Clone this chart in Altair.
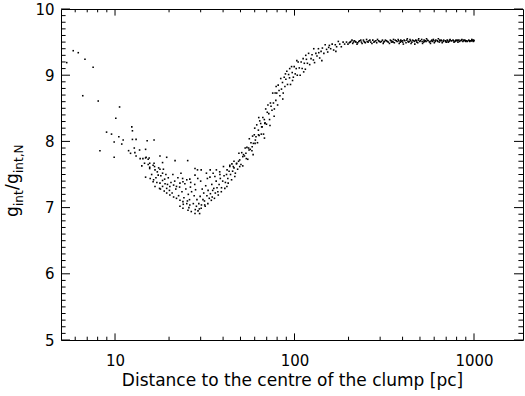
import altair as alt
import pandas as pd

# (distance [pc], g_int/g_int,N)
sparse_pts = [
    (5.38, 9.19), (5.85, 9.37), (6.24, 9.34), (6.80, 9.24), (7.55, 9.12), (6.61, 8.69),
    (8.06, 8.61), (10.6, 8.52), (10.1, 8.35), (12.4, 8.22), (12.5, 8.16), (8.97, 8.14),
    (9.56, 8.11), (10.5, 8.07), (11.1, 8.02), (9.89, 7.99), (12.5, 8.03), (13.1, 8.03),
    (15.1, 8.01), (16.5, 8.02), (10.9, 7.96), (12.8, 7.90), (14.8, 7.88), (8.24, 7.86),
    (11.9, 7.86), (12.2, 7.82), (12.9, 7.83), (13.7, 7.87), (9.89, 7.76), (13.1, 7.78),
    (13.8, 7.74), (14.8, 7.75), (15.5, 7.75), (17.8, 7.78), (19.4, 7.76), (18.4, 7.68),
    (21.6, 7.71), (25.4, 7.71), (14.1, 7.63), (15.3, 7.65), (16.5, 7.67), (15.6, 7.61),
    (16.6, 7.62), (17.8, 7.58), (27.9, 7.59),
]

left_arm_pts = [
    (14.3, 7.74), (14.9, 7.76), (15.3, 7.73), (14.6, 7.67), (15.6, 7.67), (16.3, 7.64),
    (15.6, 7.59), (16.7, 7.57), (17.2, 7.54), (14.8, 7.46), (15.7, 7.44), (17.4, 7.49),
    (18.4, 7.52), (16.3, 7.39), (17.1, 7.38), (17.8, 7.37), (18.4, 7.41), (18.9, 7.43),
    (16.7, 7.32), (17.7, 7.29), (18.4, 7.32), (19.4, 7.29), (20.2, 7.32), (19.4, 7.22),
    (20.2, 7.19), (16.0, 7.50), (16.9, 7.45), (17.5, 7.60), (18.0, 7.48), (18.6, 7.58),
    (19.0, 7.36), (17.9, 7.28), (19.2, 7.50), (16.4, 7.42), (18.8, 7.25),
]

trough_pts = [
    (21.2, 7.16), (22.0, 7.14), (23.0, 7.11), (23.9, 7.09), (25.1, 7.06), (26.1, 7.04),
    (23.0, 7.02), (23.9, 6.99), (25.5, 6.96), (26.6, 6.94), (27.9, 6.91), (29.0, 6.95),
    (30.2, 6.99), (29.6, 6.91), (31.6, 7.04), (32.9, 7.06), (34.4, 7.11), (35.8, 7.14),
    (37.6, 7.19), (39.1, 7.24), (40.9, 7.29), (42.7, 7.37), (44.6, 7.42), (46.5, 7.47),
    (21.2, 7.34), (22.0, 7.32), (23.0, 7.37), (23.9, 7.39), (25.1, 7.42), (26.1, 7.43),
    (27.9, 7.49), (28.8, 7.57), (30.2, 7.57), (32.3, 7.52), (33.9, 7.57), (35.2, 7.52),
    (36.7, 7.57), (38.3, 7.54), (40.2, 7.62), (42.1, 7.57), (43.6, 7.64), (45.6, 7.62),
    (19.8, 7.45), (20.5, 7.38), (20.1, 7.26), (21.0, 7.50), (20.8, 7.22), (19.6, 7.35),
    (21.8, 7.28), (22.4, 7.45), (22.6, 7.18), (21.5, 7.40), (22.9, 7.31), (23.3, 7.52),
    (23.6, 7.24), (24.2, 7.15), (24.5, 7.36), (24.0, 7.05), (24.8, 7.28), (23.8, 7.44),
    (25.6, 7.20), (26.0, 7.12), (26.3, 7.31), (25.8, 7.00), (26.7, 7.24), (26.4, 7.38),
    (25.3, 7.10), (27.3, 7.06), (27.6, 7.18), (28.1, 7.27), (28.4, 7.02), (28.0, 6.97),
    (27.8, 7.35), (28.6, 7.12), (28.9, 7.44), (29.3, 7.06), (29.8, 7.17), (30.3, 7.04),
    (30.6, 7.28), (29.5, 6.98), (30.9, 7.12), (30.0, 7.40), (31.2, 7.22), (31.5, 7.10),
    (32.0, 7.33), (32.5, 7.18), (31.8, 7.02), (33.0, 7.26), (32.7, 7.44), (33.5, 7.14),
    (34.0, 7.21), (34.6, 7.35), (33.8, 7.46), (35.0, 7.26), (34.8, 7.16), (35.5, 7.29),
    (36.2, 7.22), (36.6, 7.40), (37.0, 7.30), (36.0, 7.47), (37.4, 7.24), (38.0, 7.35),
    (38.6, 7.44), (39.2, 7.30), (39.8, 7.40), (38.4, 7.50), (40.5, 7.48), (41.2, 7.38),
    (41.8, 7.50), (42.5, 7.44), (43.2, 7.55), (42.0, 7.32), (44.0, 7.50), (43.6, 7.62),
    (45.2, 7.55), (46.0, 7.60), (46.8, 7.52), (47.5, 7.66), (48.2, 7.58), (48.8, 7.70),
    (49.5, 7.62), (49.0, 7.82), (46.0, 7.70), (44.8, 7.66),
]

rise_pts = [
    (47.6, 7.67), (49.5, 7.72), (51.5, 7.77), (53.6, 7.82), (55.8, 7.87), (58.1, 7.92),
    (60.5, 8.02), (63.0, 8.10), (65.6, 8.22), (68.3, 8.27),
    (50.3, 7.65), (50.8, 7.83), (51.5, 7.63), (52.0, 7.80), (52.6, 7.78), (53.1, 7.90),
    (53.9, 7.74), (54.3, 7.91), (54.9, 7.73), (55.5, 7.90), (56.0, 8.04), (56.7, 7.88),
    (57.2, 7.98), (57.9, 7.86), (58.4, 8.08), (59.0, 7.97), (59.7, 8.10), (60.3, 7.97),
    (61.0, 8.07), (61.6, 8.25), (62.2, 7.98), (62.9, 8.17), (63.5, 8.09), (64.0, 8.31),
    (64.8, 8.27), (65.3, 8.11), (66.0, 8.22), (66.6, 8.36), (67.2, 8.11), (67.9, 8.33),
    (68.5, 8.28), (69.1, 8.49), (69.8, 8.26), (70.5, 8.44), (71.1, 8.55), (71.9, 8.42),
    (72.6, 8.33), (73.4, 8.58), (74.0, 8.53), (74.9, 8.47), (75.6, 8.73), (76.3, 8.58),
    (77.2, 8.49), (78.0, 8.73), (78.7, 8.62), (79.6, 8.73), (80.5, 8.55), (81.1, 8.85),
    (82.0, 8.77), (82.9, 8.69), (83.8, 8.95), (84.6, 8.79), (85.7, 8.89), (86.5, 8.73),
    (87.6, 8.97), (88.4, 8.83), (89.5, 8.94), (90.6, 9.06), (91.4, 8.86), (92.7, 9.01),
    (93.8, 8.96), (95.0, 8.86), (96.3, 9.13), (97.1, 9.04), (98.5, 8.97), (99.6, 9.13),
    (100.9, 9.02), (102.2, 9.10), (103.6, 9.00), (104.8, 9.20), (106.3, 9.11), (107.5, 9.00),
    (108.9, 9.20), (110.3, 9.10), (111.7, 9.25), (113.4, 9.18), (114.9, 9.09), (116.5, 9.24),
    (118.0, 9.18), (119.8, 9.33), (121.5, 9.16), (123.6, 9.25), (125.2, 9.31), (127.4, 9.23),
    (129.3, 9.19), (131.5, 9.33), (133.4, 9.29), (135.9, 9.40), (138.1, 9.26), (140.6, 9.36),
    (143.0, 9.41), (145.7, 9.33), (148.2, 9.46), (150.9, 9.39), (153.1, 9.35), (156.4, 9.45),
    (159.0, 9.40), (162.1, 9.47), (165.2, 9.38), (168.7, 9.46), (171.6, 9.43), (175.4, 9.51),
    (178.6, 9.47), (182.3, 9.43), (186.5, 9.50), (190.2, 9.47), (194.8, 9.50), (198.5, 9.47),
    (58.8, 7.80), (63.2, 8.36), (68.0, 8.05), (73.0, 8.24), (79.0, 8.83), (86.0, 8.64),
    (94.0, 9.10), (103.0, 9.22), (115.5, 9.30), (128.0, 9.40), (142.0, 9.22), (60.0, 8.20),
    (77.0, 8.38), (89.0, 9.02), (97.5, 8.92), (112.5, 9.05), (136.5, 9.34), (155.0, 9.42),
    (170.0, 9.36),
]

plateau_pts = [
    (202, 9.49), (206, 9.51), (211, 9.48), (215, 9.52), (220, 9.50), (225, 9.49),
    (231, 9.52), (236, 9.50), (242, 9.53), (248, 9.49), (254, 9.51), (260, 9.52),
    (266, 9.50), (273, 9.53), (280, 9.51), (287, 9.49), (294, 9.52), (301, 9.50),
    (309, 9.53), (317, 9.51), (325, 9.52), (333, 9.50), (342, 9.53), (351, 9.51),
    (360, 9.49), (369, 9.52), (378, 9.54), (388, 9.50), (398, 9.52), (408, 9.53),
    (418, 9.49), (429, 9.51), (440, 9.54), (451, 9.50), (462, 9.52), (474, 9.53),
    (486, 9.49), (498, 9.51), (511, 9.54), (524, 9.50), (537, 9.52), (551, 9.53),
    (565, 9.50), (579, 9.52), (594, 9.54), (609, 9.51), (625, 9.52), (641, 9.50),
    (657, 9.53), (674, 9.51), (691, 9.52), (709, 9.53), (727, 9.51), (745, 9.52),
    (764, 9.53), (784, 9.51), (804, 9.52), (824, 9.53), (845, 9.52), (867, 9.51),
    (889, 9.53), (912, 9.52), (935, 9.53), (959, 9.52), (984, 9.53), (1000, 9.52),
    (209, 9.53), (223, 9.47), (238, 9.48), (252, 9.54), (270, 9.48), (290, 9.54),
    (312, 9.48), (338, 9.48), (356, 9.54), (383, 9.48), (404, 9.47), (425, 9.55),
    (446, 9.48), (468, 9.47), (492, 9.55), (517, 9.48), (544, 9.55), (572, 9.48),
    (601, 9.49), (633, 9.55), (665, 9.49), (700, 9.50), (736, 9.54), (774, 9.50),
    (814, 9.50), (856, 9.54), (900, 9.51), (947, 9.51), (972, 9.54), (992, 9.51),
    (218, 9.51), (246, 9.50), (277, 9.50), (305, 9.51), (347, 9.50), (393, 9.51),
    (435, 9.51), (480, 9.50), (530, 9.51), (586, 9.51), (649, 9.52), (718, 9.50),
    (794, 9.53), (878, 9.52), (965, 9.52),
    (204, 9.50), (213, 9.50), (228, 9.51), (234, 9.53), (244, 9.51), (257, 9.50),
    (263, 9.53), (284, 9.52), (297, 9.51), (314, 9.50), (321, 9.53), (329, 9.51),
    (345, 9.52), (354, 9.50), (364, 9.53), (373, 9.51), (381, 9.52), (391, 9.53),
    (401, 9.50), (412, 9.52), (422, 9.53), (432, 9.50), (443, 9.52), (455, 9.53),
    (466, 9.51), (477, 9.52), (489, 9.53), (502, 9.52), (514, 9.51), (527, 9.53),
    (541, 9.51), (555, 9.52), (569, 9.51), (583, 9.53), (598, 9.52), (613, 9.53),
    (629, 9.51), (645, 9.53), (661, 9.52), (678, 9.53), (695, 9.51), (713, 9.52),
    (731, 9.53), (750, 9.52), (769, 9.52), (789, 9.52), (809, 9.53), (830, 9.51),
    (851, 9.53), (873, 9.53), (895, 9.52), (918, 9.51), (941, 9.52), (978, 9.52),
    (996, 9.53),
]

pts = sparse_pts + left_arm_pts + trough_pts + rise_pts + plateau_pts
df = pd.DataFrame(pts, columns=["dist", "ratio"])

# axis ticks / labels
y_major = [5, 6, 7, 8, 9, 10]
y_minor = [round(5 + 0.1 * i, 1) for i in range(51) if i % 10]
x_major = [10, 100, 1000]
x_minor = [6, 7, 8, 9, 20, 30, 40, 50, 60, 70, 80, 90,
           200, 300, 400, 500, 600, 700, 800, 900]
x_title = "Distance to the centre of the clump [pc]"
ytitle_parts = ["g", "int", "/", "g", "int,N"]

W, H = 462, 331
FONT = "DejaVu Sans"

xs = alt.Scale(type="log", domain=[5, 1875], nice=False)
ys = alt.Scale(domain=[5, 10], nice=False, zero=False)

x_axis = alt.Axis(values=x_major, format="d", ticks=False, domain=False, grid=False,
                  labelFont=FONT, labelFontSize=15, labelColor="black", labelPadding=13,
                  labelFlush=False, title=x_title, titleFont=FONT, titleFontSize=17,
                  titleFontWeight="normal", titleColor="black", titlePadding=4)
y_axis = alt.Axis(values=y_major, format="d", ticks=False, domain=False, grid=False,
                  labelFont=FONT, labelFontSize=15, labelColor="black", labelPadding=7,
                  labelFlush=False, title=None)

scatter = alt.Chart(df).mark_square(size=2.5, color="black", opacity=1).encode(
    x=alt.X("dist:Q", scale=xs, axis=x_axis),
    y=alt.Y("ratio:Q", scale=ys, axis=y_axis),
)

ymaj = pd.DataFrame({"v": y_major})
ymin = pd.DataFrame({"v": y_minor})
xmaj = pd.DataFrame({"v": x_major})
xmin = pd.DataFrame({"v": x_minor})


def ytick(data, x0, x1):
    return alt.Chart(data).mark_rule(color="black", strokeWidth=1).encode(
        y=alt.Y("v:Q", scale=ys, axis=y_axis), x=alt.value(x0), x2=alt.value(x1))


def xtick(data, y0, y1):
    return alt.Chart(data).mark_rule(color="black", strokeWidth=1).encode(
        x=alt.X("v:Q", scale=xs, axis=x_axis), y=alt.value(y0), y2=alt.value(y1))


ticks = [
    ytick(ymaj, 0, 9), ytick(ymin, 0, 4.6), ytick(ymaj, W - 9, W), ytick(ymin, W - 4.6, W),
    xtick(xmaj, H - 6.6, H), xtick(xmin, H - 3.3, H), xtick(xmaj, 0, 6.6), xtick(xmin, 0, 3.3),
]


def ttl(i, size, dx, dy):
    return alt.Chart(pd.DataFrame({"t": [ytitle_parts[i]]})).mark_text(
        angle=270, align="left", baseline="alphabetic", font=FONT, fontSize=size,
        dx=dx, dy=dy, color="black").encode(
        x=alt.value(-43), y=alt.value(208), text="t:N")


titles = [ttl(0, 17, 0, 0), ttl(1, 12, 11, 5), ttl(2, 17, 27, 0),
          ttl(3, 17, 33, 0), ttl(4, 12, 44, 5)]

chart = alt.layer(scatter, *ticks, *titles).properties(
    width=W, height=H, autosize="none",
    padding={"left": 61, "top": 9, "right": 2, "bottom": 56},
    background="white",
).configure_view(stroke="black", strokeWidth=1)

chart.save("out.html", embed_options={"renderer": "svg", "actions": False})
